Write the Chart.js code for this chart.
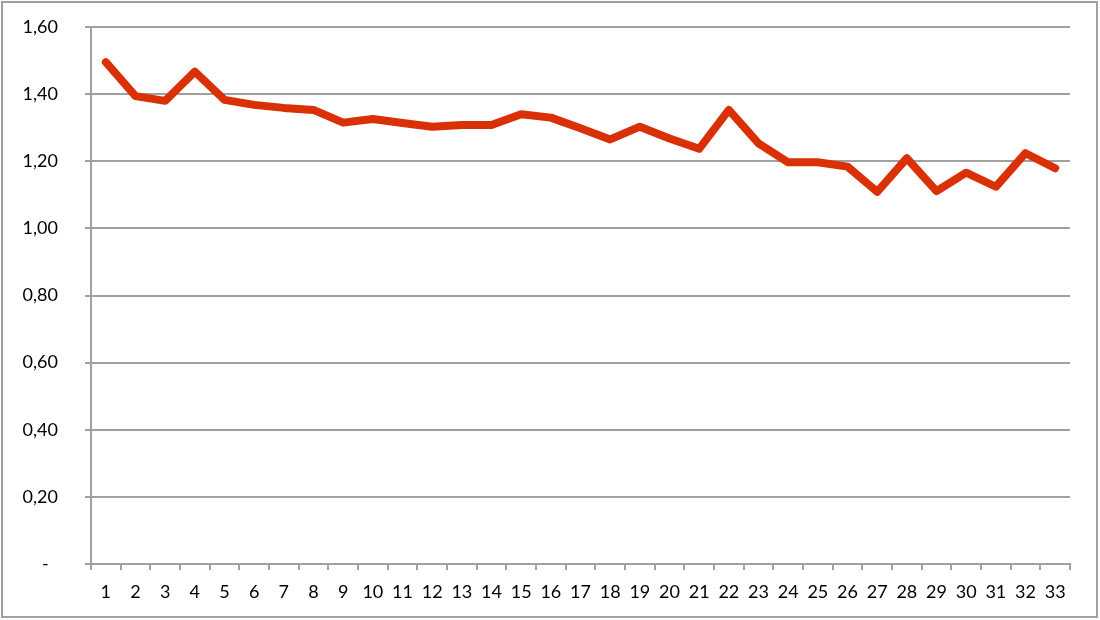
<!DOCTYPE html>
<html>
<head>
<meta charset="utf-8">
<script src="https://cdn.jsdelivr.net/npm/chart.js@4/dist/chart.umd.min.js"></script>
<style>
html,body{margin:0;padding:0;background:#fff;}
#wrap{position:relative;width:1100px;height:620px;}
</style>
</head>
<body>
<div id="wrap"><canvas id="c" width="1100" height="620"></canvas></div>
<script>
const categories = ['1','2','3','4','5','6','7','8','9','10','11','12','13','14','15','16','17','18','19','20','21','22','23','24','25','26','27','28','29','30','31','32','33'];
const values = [1.495,1.394,1.380,1.467,1.383,1.368,1.359,1.353,1.315,1.326,1.314,1.303,1.308,1.308,1.340,1.330,1.298,1.265,1.303,1.268,1.237,1.353,1.253,1.197,1.197,1.184,1.109,1.209,1.111,1.166,1.124,1.224,1.179];
const yTicks = [0,0.2,0.4,0.6,0.8,1.0,1.2,1.4,1.6];

const frame = {
  id:'frame',
  afterDraw(chart){
    const ctx = chart.ctx;
    ctx.save();
    ctx.strokeStyle = '#a0a0a0';
    ctx.lineWidth = 2;
    ctx.strokeRect(2,2,1095,615);
    ctx.restore();
  }
};

new Chart(document.getElementById('c'), {
  type:'line',
  data:{
    labels:categories,
    datasets:[{
      data:values,
      borderColor:'#da3006',
      borderWidth:8,
      pointRadius:0,
      tension:0,
      borderJoinStyle:'round',
      borderCapStyle:'round',
      fill:false
    }]
  },
  options:{
    responsive:false,
    animation:false,
    devicePixelRatio:1,
    layout:{padding:{top:27,right:30,left:0,bottom:0}},
    plugins:{legend:{display:false},tooltip:{enabled:false}},
    scales:{
      x:{
        offset:true,
        grid:{offset:true,drawOnChartArea:false,drawTicks:true,tickLength:6,color:'#a0a0a0',lineWidth:2},
        border:{color:'#a0a0a0',width:2},
        ticks:{color:'#000',font:{family:'Lato',size:18},padding:11,maxRotation:0,autoSkip:false},
        afterFit(s){s.height=56;}
      },
      y:{
        min:0,max:1.6,
        afterBuildTicks(s){s.ticks = yTicks.map(v=>({value:v}));},
        grid:{color:'#a0a0a0',lineWidth:2,tickLength:6,drawTicks:true},
        border:{color:'#a0a0a0',width:2},
        ticks:{color:'#000',font:{family:'Lato',size:18},padding:27,
          callback(v){return v===0?'-  ':v.toFixed(2).replace('.',',');}},
        afterFit(s){s.width=91;s.paddingTop=0;s.paddingBottom=0;}
      }
    }
  },
  plugins:[frame]
});
</script>
</body>
</html>
